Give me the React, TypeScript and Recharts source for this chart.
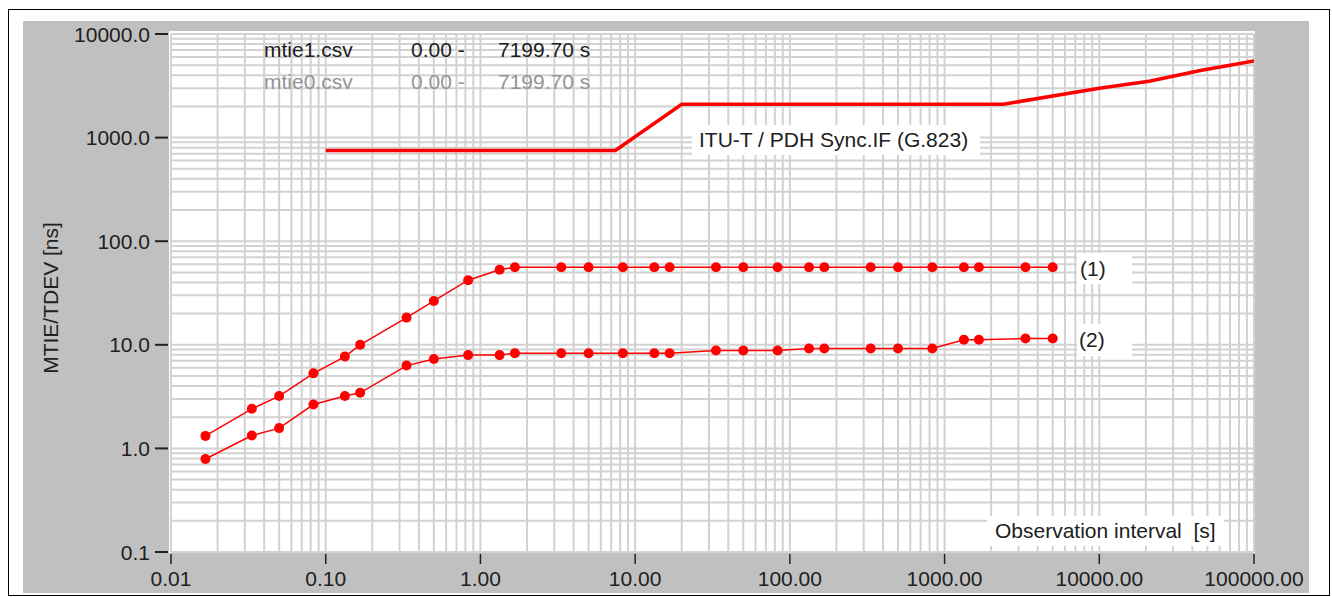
import { ComposedChart, Line, XAxis, YAxis, CartesianGrid } from "recharts";

const FONT = '"Liberation Sans", Arial, sans-serif';
const RED = "#ff0000";
const INK = "#202020";

// observation intervals tau [s]
const TAU = [
  0.0167, 0.0333, 0.05, 0.0833, 0.133, 0.167, 0.333, 0.5, 0.833, 1.33, 1.67, 3.33, 5, 8.33,
  13.3, 16.7, 33.3, 50, 83.3, 133, 167, 333, 500, 833, 1333, 1667, 3333, 5000,
];
// (1) mtie1.csv
const MTIE1 = [
  1.32, 2.41, 3.2, 5.3, 7.7, 10.0, 18.3, 26.5, 42, 53, 56, 56, 56, 56, 56, 56, 56, 56, 56, 56,
  56, 56, 56, 56, 56, 56, 56, 56,
];
// (2) mtie0.csv
const MTIE0 = [
  0.79, 1.33, 1.57, 2.65, 3.2, 3.44, 6.3, 7.3, 7.95, 7.95, 8.3, 8.3, 8.3, 8.3, 8.3, 8.3, 8.8,
  8.8, 8.8, 9.2, 9.2, 9.2, 9.2, 9.2, 11.2, 11.2, 11.5, 11.5,
];
// ITU-T G.823 PDH sync interface mask
const MASK_TAU = [0.1, 7.45, 20, 2400, 10000, 21000, 45000, 100000];
const MASK_NS = [750, 750, 2100, 2100, 3000, 3500, 4450, 5500];

const X_TICKS = [0.01, 0.1, 1, 10, 100, 1000, 10000, 100000];
const Y_TICKS = [0.1, 1, 10, 100, 1000, 10000];
const STEPS = [1, 2, 3, 4, 5, 6, 7, 8, 9];

const logGrid = (decades: number[]) =>
  decades.slice(0, -1).flatMap((d) => STEPS.map((k) => d * k)).concat(decades[decades.length - 1]);

const GRID_X = logGrid(X_TICKS);
const GRID_Y = logGrid(Y_TICKS);

const s1 = TAU.map((t, i) => ({ tau: t, v: MTIE1[i] }));
const s0 = TAU.map((t, i) => ({ tau: t, v: MTIE0[i] }));
const mask = MASK_TAU.map((t, i) => ({ tau: t, v: MASK_NS[i] }));

function YTick({ x, y, payload }: any) {
  return (
    <g>
      <line x1={x - 16} x2={x - 3} y1={y} y2={y} stroke={INK} strokeWidth={2} />
      <text x={x - 21} y={y + 7.5} textAnchor="end" fontSize={21} fontFamily={FONT} fill={INK}>
        {Number(payload.value).toFixed(1)}
      </text>
    </g>
  );
}

function XTick({ x, y, payload }: any) {
  return (
    <g>
      <line x1={x} x2={x} y1={y + 2} y2={y + 12} stroke={INK} strokeWidth={1.5} />
      <text x={x} y={y + 34} textAnchor="middle" fontSize={21} fontFamily={FONT} fill={INK}>
        {Number(payload.value).toFixed(2)}
      </text>
    </g>
  );
}

const box = (l: number, t: number, w: number, h: number): React.CSSProperties => ({
  position: "absolute",
  left: l,
  top: t,
  width: w,
  height: h,
  background: "#fff",
});

export default function App() {
  return (
    <div style={{ position: "absolute", left: 0, top: 0, width: 1332, height: 597, background: "#fff" }}>
      <div style={{ position: "absolute", left: 8, top: 9, width: 1322, height: 587, border: "1px solid #000", boxSizing: "border-box" }} />
      <div style={{ position: "absolute", left: 23, top: 21, width: 1286, height: 572, background: "#c0c0c0" }} />
      <div style={box(169, 31, 1086, 522)} />

      <div style={{ position: "absolute", left: 0, top: 0 }}>
        <ComposedChart width={1332} height={597} margin={{ top: 34, right: 78, left: 71, bottom: 5 }}>
          <CartesianGrid
            fill="#ffffff"
            stroke="#d2d2d2"
            strokeWidth={2}
            verticalValues={GRID_X}
            horizontalValues={GRID_Y}
          />
          <XAxis
            dataKey="tau"
            type="number"
            scale="log"
            domain={[0.01, 100000]}
            ticks={X_TICKS}
            interval={0}
            allowDataOverflow
            axisLine={false}
            tickLine={false}
            tickSize={0}
            tickMargin={0}
            height={40}
            tick={<XTick />}
          />
          <YAxis
            dataKey="v"
            type="number"
            scale="log"
            domain={[0.1, 10000]}
            ticks={Y_TICKS}
            interval={0}
            allowDataOverflow
            axisLine={false}
            tickLine={false}
            tickSize={0}
            tickMargin={0}
            width={100}
            tick={<YTick />}
          />
          <Line
            data={mask}
            dataKey="v"
            stroke={RED}
            strokeWidth={3.5}
            dot={false}
            isAnimationActive={false}
          />
          <Line
            data={s1}
            dataKey="v"
            stroke={RED}
            strokeWidth={1.5}
            dot={{ r: 5, fill: RED, stroke: "none" }}
            isAnimationActive={false}
          />
          <Line
            data={s0}
            dataKey="v"
            stroke={RED}
            strokeWidth={1.5}
            dot={{ r: 5, fill: RED, stroke: "none" }}
            isAnimationActive={false}
          />
        </ComposedChart>
      </div>

      <div style={box(692, 125, 288, 30)} />
      <div style={box(1077, 253, 55, 31)} />
      <div style={box(1077, 324, 55, 32)} />
      <div style={box(987, 516, 237, 30)} />

      <svg width={1332} height={597} style={{ position: "absolute", left: 0, top: 0, pointerEvents: "none" }}>
        <g fontFamily={FONT} fontSize={21} fill={INK}>
          <text x={264} y={57}>mtie1.csv</text>
          <text x={411} y={57}>0.00 -</text>
          <text x={498} y={57}>7199.70 s</text>
          <g fill="#949494">
            <text x={264} y={89}>mtie0.csv</text>
            <text x={411} y={89}>0.00 -</text>
            <text x={498} y={89}>7199.70 s</text>
          </g>
          <text x={699} y={147}>ITU-T / PDH Sync.IF (G.823)</text>
          <text x={1080} y={276}>(1)</text>
          <text x={1079} y={347}>(2)</text>
          <text x={995} y={538} xmlSpace="preserve">Observation interval  [s]</text>
          <text x={58} y={298} textAnchor="middle" transform="rotate(-90 58 298)">MTIE/TDEV [ns]</text>
        </g>
      </svg>
    </div>
  );
}
